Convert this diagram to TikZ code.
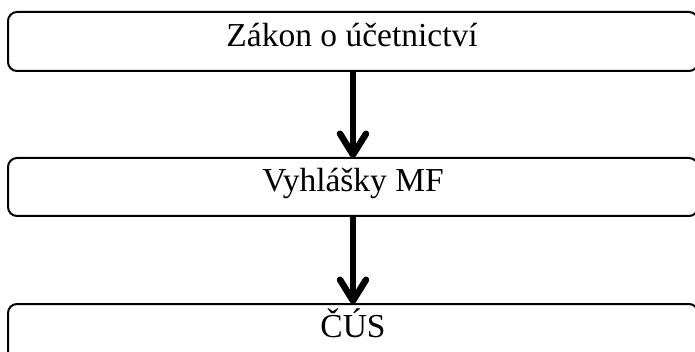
\documentclass[tikz,border=0pt]{standalone}
\usepackage{fontspec}
\setmainfont{Liberation Serif}
\usetikzlibrary{arrows.meta}
\begin{document}
\begin{tikzpicture}[x=1pt,y=-1pt,
  box/.style={draw=black, line width=2pt, rounded corners=9pt},
  lbl/.style={anchor=base, inner sep=0pt, font=\fontsize{33.5}{40}\selectfont},
  flow/.style={line width=5.5pt, -{Straight Barb[length=21pt,width=26pt,line width=6.5pt,line cap=round,line join=round]}}]
\useasboundingbox (0,0) rectangle (695,352);
\fill[white] (0,0) rectangle (695,352);
% boxes
\draw[box] (8,12) rectangle (698,71);
\draw[box] (8,158) rectangle (698,216);
\draw[box] (8,304) rectangle (698,380);
% named anchor points
\coordinate (b1s) at (353,71);
\coordinate (b2n) at (353,158);
\coordinate (b2s) at (353,216);
\coordinate (b3n) at (353,304);
% labels
\node[lbl] (t1) at (352,47) {Zákon o účetnictví};
\node[lbl] (t2) at (353,192) {Vyhlášky MF};
\node[lbl] (t3) at (353,337) {ČÚS};
% arrows
\draw[flow] (b1s) -- (b2n);
\draw[flow] (b2s) -- (b3n);
\end{tikzpicture}
\end{document}
